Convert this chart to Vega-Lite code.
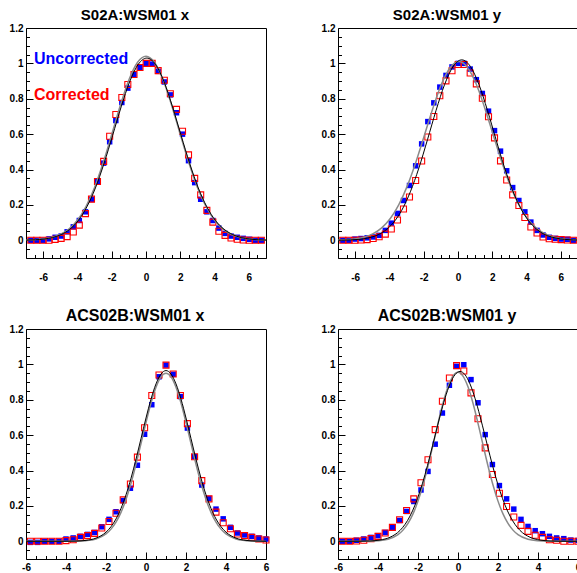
{
  "$schema": "https://vega.github.io/schema/vega-lite/v6.json",
  "padding": {"left": 8, "top": 7, "right": 0, "bottom": 0},
  "background": "white",
  "datasets": {
    "pts": [
      {"p":"a","x":-6.72,"u":0,"c":0},{"p":"a","x":-6.37,"u":0,"c":0},{"p":"a","x":-6.01,"u":0,"c":0},{"p":"a","x":-5.66,"u":0.008,"c":0},
      {"p":"a","x":-5.30,"u":0.017,"c":0.005},{"p":"a","x":-4.95,"u":0.024,"c":0.011},{"p":"a","x":-4.60,"u":0.048,"c":0.021},{"p":"a","x":-4.24,"u":0.076,"c":0.047},
      {"p":"a","x":-3.89,"u":0.112,"c":0.086},{"p":"a","x":-3.53,"u":0.161,"c":0.151},{"p":"a","x":-3.18,"u":0.231,"c":0.233},{"p":"a","x":-2.83,"u":0.331,"c":0.332},
      {"p":"a","x":-2.47,"u":0.436,"c":0.446},{"p":"a","x":-2.12,"u":0.557,"c":0.588},{"p":"a","x":-1.76,"u":0.677,"c":0.711},{"p":"a","x":-1.41,"u":0.779,"c":0.807},
      {"p":"a","x":-1.06,"u":0.86,"c":0.881},{"p":"a","x":-0.70,"u":0.936,"c":0.937},{"p":"a","x":-0.35,"u":0.978,"c":0.977},{"p":"a","x":0.01,"u":1.0,"c":1.0},
      {"p":"a","x":0.36,"u":0.996,"c":1.0},{"p":"a","x":0.71,"u":0.955,"c":0.959},{"p":"a","x":1.07,"u":0.895,"c":0.905},{"p":"a","x":1.42,"u":0.822,"c":0.828},
      {"p":"a","x":1.78,"u":0.721,"c":0.74},{"p":"a","x":2.13,"u":0.6,"c":0.616},{"p":"a","x":2.48,"u":0.45,"c":0.483},{"p":"a","x":2.84,"u":0.326,"c":0.35},
      {"p":"a","x":3.19,"u":0.232,"c":0.257},{"p":"a","x":3.55,"u":0.161,"c":0.169},{"p":"a","x":3.90,"u":0.112,"c":0.103},{"p":"a","x":4.25,"u":0.069,"c":0.051},
      {"p":"a","x":4.61,"u":0.039,"c":0.028},{"p":"a","x":4.96,"u":0.024,"c":0.013},{"p":"a","x":5.32,"u":0.017,"c":0.006},{"p":"a","x":5.67,"u":0.011,"c":0.002},
      {"p":"a","x":6.02,"u":0.006,"c":0},{"p":"a","x":6.38,"u":0,"c":0},{"p":"a","x":6.73,"u":0,"c":0},

      {"p":"b","x":-6.72,"u":0,"c":0},{"p":"b","x":-6.37,"u":0,"c":0},{"p":"b","x":-6.01,"u":0.007,"c":0},{"p":"b","x":-5.66,"u":0.01,"c":0.002},
      {"p":"b","x":-5.30,"u":0.014,"c":0.004},{"p":"b","x":-4.95,"u":0.019,"c":0.01},{"p":"b","x":-4.60,"u":0.028,"c":0.02},{"p":"b","x":-4.24,"u":0.056,"c":0.035},
      {"p":"b","x":-3.89,"u":0.097,"c":0.064},{"p":"b","x":-3.53,"u":0.152,"c":0.115},{"p":"b","x":-3.18,"u":0.225,"c":0.177},{"p":"b","x":-2.83,"u":0.31,"c":0.245},
      {"p":"b","x":-2.47,"u":0.421,"c":0.338},{"p":"b","x":-2.12,"u":0.545,"c":0.448},{"p":"b","x":-1.76,"u":0.671,"c":0.584},{"p":"b","x":-1.41,"u":0.777,"c":0.7},
      {"p":"b","x":-1.06,"u":0.866,"c":0.817},{"p":"b","x":-0.70,"u":0.932,"c":0.901},{"p":"b","x":-0.35,"u":0.98,"c":0.958},{"p":"b","x":0.01,"u":1.0,"c":0.994},
      {"p":"b","x":0.36,"u":1.0,"c":0.994},{"p":"b","x":0.71,"u":0.968,"c":0.946},{"p":"b","x":1.07,"u":0.908,"c":0.884},{"p":"b","x":1.42,"u":0.83,"c":0.803},
      {"p":"b","x":1.78,"u":0.73,"c":0.698},{"p":"b","x":2.13,"u":0.62,"c":0.579},{"p":"b","x":2.48,"u":0.504,"c":0.449},{"p":"b","x":2.84,"u":0.393,"c":0.341},
      {"p":"b","x":3.19,"u":0.298,"c":0.257},{"p":"b","x":3.55,"u":0.225,"c":0.197},{"p":"b","x":3.90,"u":0.161,"c":0.129},{"p":"b","x":4.25,"u":0.103,"c":0.075},
      {"p":"b","x":4.61,"u":0.056,"c":0.041},{"p":"b","x":4.96,"u":0.03,"c":0.019},{"p":"b","x":5.32,"u":0.017,"c":0.009},{"p":"b","x":5.67,"u":0.011,"c":0.006},
      {"p":"b","x":6.02,"u":0.007,"c":0.004},{"p":"b","x":6.38,"u":0.006,"c":0.002},{"p":"b","x":6.73,"u":0,"c":0},

      {"p":"c","x":-5.78,"u":-0.006,"c":0},{"p":"c","x":-5.42,"u":-0.006,"c":0},{"p":"c","x":-5.07,"u":0,"c":0},{"p":"c","x":-4.71,"u":0,"c":0},
      {"p":"c","x":-4.35,"u":0,"c":0},{"p":"c","x":-4.00,"u":0.013,"c":0.004},{"p":"c","x":-3.64,"u":0.019,"c":0.009},{"p":"c","x":-3.28,"u":0.028,"c":0.022},
      {"p":"c","x":-2.92,"u":0.039,"c":0.032},{"p":"c","x":-2.57,"u":0.05,"c":0.045},{"p":"c","x":-2.21,"u":0.082,"c":0.075},{"p":"c","x":-1.85,"u":0.124,"c":0.112},
      {"p":"c","x":-1.50,"u":0.167,"c":0.159},{"p":"c","x":-1.14,"u":0.23,"c":0.234},{"p":"c","x":-0.78,"u":0.3,"c":0.324},{"p":"c","x":-0.43,"u":0.43,"c":0.476},
      {"p":"c","x":-0.07,"u":0.605,"c":0.642},{"p":"c","x":0.29,"u":0.772,"c":0.824},{"p":"c","x":0.65,"u":0.93,"c":0.94},{"p":"c","x":1.00,"u":0.996,"c":0.996},
      {"p":"c","x":1.36,"u":0.944,"c":0.946},{"p":"c","x":1.72,"u":0.818,"c":0.824},{"p":"c","x":2.07,"u":0.64,"c":0.665},{"p":"c","x":2.43,"u":0.478,"c":0.478},
      {"p":"c","x":2.79,"u":0.318,"c":0.343},{"p":"c","x":3.15,"u":0.242,"c":0.24},{"p":"c","x":3.50,"u":0.182,"c":0.165},{"p":"c","x":3.86,"u":0.127,"c":0.105},
      {"p":"c","x":4.22,"u":0.079,"c":0.071},{"p":"c","x":4.57,"u":0.047,"c":0.041},{"p":"c","x":4.93,"u":0.036,"c":0.032},{"p":"c","x":5.29,"u":0.028,"c":0.022},
      {"p":"c","x":5.64,"u":0.019,"c":0.013},{"p":"c","x":6.00,"u":0.013,"c":0.007},

      {"p":"d","x":-5.78,"u":0,"c":0},{"p":"d","x":-5.42,"u":0,"c":0},{"p":"d","x":-5.07,"u":0.006,"c":0.002},{"p":"d","x":-4.71,"u":0.013,"c":0.006},
      {"p":"d","x":-4.35,"u":0.022,"c":0.015},{"p":"d","x":-4.00,"u":0.032,"c":0.028},{"p":"d","x":-3.64,"u":0.05,"c":0.047},{"p":"d","x":-3.28,"u":0.079,"c":0.079},
      {"p":"d","x":-2.92,"u":0.118,"c":0.122},{"p":"d","x":-2.57,"u":0.169,"c":0.174},{"p":"d","x":-2.21,"u":0.225,"c":0.24},{"p":"d","x":-1.85,"u":0.29,"c":0.331},
      {"p":"d","x":-1.50,"u":0.395,"c":0.461},{"p":"d","x":-1.14,"u":0.549,"c":0.631},{"p":"d","x":-0.78,"u":0.725,"c":0.792},{"p":"d","x":-0.43,"u":0.882,"c":0.923},
      {"p":"d","x":-0.07,"u":0.989,"c":0.993},{"p":"d","x":0.29,"u":0.998,"c":0.963},{"p":"d","x":0.65,"u":0.914,"c":0.839},{"p":"d","x":1.00,"u":0.783,"c":0.693},
      {"p":"d","x":1.36,"u":0.603,"c":0.528},{"p":"d","x":1.72,"u":0.434,"c":0.378},{"p":"d","x":2.07,"u":0.315,"c":0.272},{"p":"d","x":2.43,"u":0.24,"c":0.197},
      {"p":"d","x":2.79,"u":0.182,"c":0.137},{"p":"d","x":3.15,"u":0.124,"c":0.09},{"p":"d","x":3.50,"u":0.084,"c":0.056},{"p":"d","x":3.86,"u":0.06,"c":0.034},
      {"p":"d","x":4.22,"u":0.043,"c":0.022},{"p":"d","x":4.57,"u":0.028,"c":0.009},{"p":"d","x":4.93,"u":0.019,"c":0.006},{"p":"d","x":5.29,"u":0.015,"c":0},
      {"p":"d","x":5.64,"u":0.007,"c":0},{"p":"d","x":6.00,"u":0.004,"c":0}
    ],
    "fits": [
      {"p":"a","f":"k","x":-7.45,"y":0.0004},{"p":"a","f":"k","x":-6.95,"y":0.0012},{"p":"a","f":"k","x":-6.45,"y":0.003},{"p":"a","f":"k","x":-5.95,"y":0.007},
      {"p":"a","f":"k","x":-5.45,"y":0.0156},{"p":"a","f":"k","x":-4.95,"y":0.0323},{"p":"a","f":"k","x":-4.45,"y":0.0623},{"p":"a","f":"k","x":-3.95,"y":0.112},
      {"p":"a","f":"k","x":-3.45,"y":0.189},{"p":"a","f":"k","x":-2.95,"y":0.296},{"p":"a","f":"k","x":-2.45,"y":0.434},{"p":"a","f":"k","x":-1.95,"y":0.592},
      {"p":"a","f":"k","x":-1.45,"y":0.754},{"p":"a","f":"k","x":-0.95,"y":0.897},{"p":"a","f":"k","x":-0.45,"y":0.995},{"p":"a","f":"k","x":0.05,"y":1.03},
      {"p":"a","f":"k","x":0.55,"y":0.995},{"p":"a","f":"k","x":1.05,"y":0.897},{"p":"a","f":"k","x":1.55,"y":0.754},{"p":"a","f":"k","x":2.05,"y":0.592},
      {"p":"a","f":"k","x":2.55,"y":0.434},{"p":"a","f":"k","x":3.05,"y":0.296},{"p":"a","f":"k","x":3.55,"y":0.189},{"p":"a","f":"k","x":4.05,"y":0.112},
      {"p":"a","f":"k","x":4.55,"y":0.0623},{"p":"a","f":"k","x":5.05,"y":0.0323},{"p":"a","f":"k","x":5.55,"y":0.0156},{"p":"a","f":"k","x":6.05,"y":0.007},
      {"p":"a","f":"k","x":6.55,"y":0.003},{"p":"a","f":"k","x":7.05,"y":0.0012},

      {"p":"a","f":"g","x":-7,"y":0.0012},{"p":"a","f":"g","x":-6.5,"y":0.003},{"p":"a","f":"g","x":-6,"y":0.0071},{"p":"a","f":"g","x":-5.5,"y":0.0158},
      {"p":"a","f":"g","x":-5,"y":0.0326},{"p":"a","f":"g","x":-4.5,"y":0.0629},{"p":"a","f":"g","x":-4,"y":0.113},{"p":"a","f":"g","x":-3.5,"y":0.191},
      {"p":"a","f":"g","x":-3,"y":0.299},{"p":"a","f":"g","x":-2.5,"y":0.438},{"p":"a","f":"g","x":-2,"y":0.598},{"p":"a","f":"g","x":-1.5,"y":0.762},
      {"p":"a","f":"g","x":-1,"y":0.906},{"p":"a","f":"g","x":-0.5,"y":1.005},{"p":"a","f":"g","x":0,"y":1.04},{"p":"a","f":"g","x":0.5,"y":1.005},
      {"p":"a","f":"g","x":1,"y":0.906},{"p":"a","f":"g","x":1.5,"y":0.762},{"p":"a","f":"g","x":2,"y":0.598},{"p":"a","f":"g","x":2.5,"y":0.438},
      {"p":"a","f":"g","x":3,"y":0.299},{"p":"a","f":"g","x":3.5,"y":0.191},{"p":"a","f":"g","x":4,"y":0.113},{"p":"a","f":"g","x":4.5,"y":0.0629},
      {"p":"a","f":"g","x":5,"y":0.0326},{"p":"a","f":"g","x":5.5,"y":0.0158},{"p":"a","f":"g","x":6,"y":0.0071},{"p":"a","f":"g","x":6.5,"y":0.003},
      {"p":"a","f":"g","x":7,"y":0.0012},

      {"p":"b","f":"g","x":-7.45,"y":0.0006},{"p":"b","f":"g","x":-6.95,"y":0.0016},{"p":"b","f":"g","x":-6.45,"y":0.0039},{"p":"b","f":"g","x":-5.95,"y":0.0089},
      {"p":"b","f":"g","x":-5.45,"y":0.0189},{"p":"b","f":"g","x":-4.95,"y":0.0378},{"p":"b","f":"g","x":-4.45,"y":0.0705},{"p":"b","f":"g","x":-3.95,"y":0.123},
      {"p":"b","f":"g","x":-3.45,"y":0.202},{"p":"b","f":"g","x":-2.95,"y":0.309},{"p":"b","f":"g","x":-2.45,"y":0.444},{"p":"b","f":"g","x":-1.95,"y":0.597},
      {"p":"b","f":"g","x":-1.45,"y":0.751},{"p":"b","f":"g","x":-0.95,"y":0.886},{"p":"b","f":"g","x":-0.45,"y":0.977},{"p":"b","f":"g","x":0.05,"y":1.01},
      {"p":"b","f":"g","x":0.55,"y":0.977},{"p":"b","f":"g","x":1.05,"y":0.886},{"p":"b","f":"g","x":1.55,"y":0.751},{"p":"b","f":"g","x":2.05,"y":0.597},
      {"p":"b","f":"g","x":2.55,"y":0.444},{"p":"b","f":"g","x":3.05,"y":0.309},{"p":"b","f":"g","x":3.55,"y":0.202},{"p":"b","f":"g","x":4.05,"y":0.123},
      {"p":"b","f":"g","x":4.55,"y":0.0705},{"p":"b","f":"g","x":5.05,"y":0.0378},{"p":"b","f":"g","x":5.55,"y":0.0189},{"p":"b","f":"g","x":6.05,"y":0.0089},
      {"p":"b","f":"g","x":6.55,"y":0.0039},{"p":"b","f":"g","x":7.05,"y":0.0016},

      {"p":"b","f":"k","x":-7.28,"y":0.0003},{"p":"b","f":"k","x":-6.78,"y":0.0008},{"p":"b","f":"k","x":-6.28,"y":0.0021},{"p":"b","f":"k","x":-5.78,"y":0.0053},
      {"p":"b","f":"k","x":-5.28,"y":0.0123},{"p":"b","f":"k","x":-4.78,"y":0.0264},{"p":"b","f":"k","x":-4.28,"y":0.0529},{"p":"b","f":"k","x":-3.78,"y":0.0985},
      {"p":"b","f":"k","x":-3.28,"y":0.17},{"p":"b","f":"k","x":-2.78,"y":0.274},{"p":"b","f":"k","x":-2.28,"y":0.409},{"p":"b","f":"k","x":-1.78,"y":0.569},
      {"p":"b","f":"k","x":-1.28,"y":0.734},{"p":"b","f":"k","x":-0.78,"y":0.881},{"p":"b","f":"k","x":-0.28,"y":0.983},{"p":"b","f":"k","x":0.22,"y":1.02},
      {"p":"b","f":"k","x":0.72,"y":0.983},{"p":"b","f":"k","x":1.22,"y":0.881},{"p":"b","f":"k","x":1.72,"y":0.734},{"p":"b","f":"k","x":2.22,"y":0.569},
      {"p":"b","f":"k","x":2.72,"y":0.409},{"p":"b","f":"k","x":3.22,"y":0.274},{"p":"b","f":"k","x":3.72,"y":0.17},{"p":"b","f":"k","x":4.22,"y":0.0985},
      {"p":"b","f":"k","x":4.72,"y":0.0529},{"p":"b","f":"k","x":5.22,"y":0.0264},{"p":"b","f":"k","x":5.72,"y":0.0123},{"p":"b","f":"k","x":6.22,"y":0.0053},
      {"p":"b","f":"k","x":6.72,"y":0.0021},{"p":"b","f":"k","x":7.22,"y":0.0008},

      {"p":"c","f":"k","x":-6,"y":0},{"p":"c","f":"k","x":-5,"y":0},{"p":"c","f":"k","x":-4,"y":0.0003},{"p":"c","f":"k","x":-3.5,"y":0.0013},
      {"p":"c","f":"k","x":-3,"y":0.0053},{"p":"c","f":"k","x":-2.5,"y":0.018},{"p":"c","f":"k","x":-2,"y":0.0517},{"p":"c","f":"k","x":-1.75,"y":0.0825},
      {"p":"c","f":"k","x":-1.5,"y":0.1264},{"p":"c","f":"k","x":-1.25,"y":0.1861},{"p":"c","f":"k","x":-1,"y":0.2628},{"p":"c","f":"k","x":-0.75,"y":0.3565},
      {"p":"c","f":"k","x":-0.5,"y":0.4643},{"p":"c","f":"k","x":-0.25,"y":0.5806},{"p":"c","f":"k","x":0,"y":0.6971},{"p":"c","f":"k","x":0.25,"y":0.8037},
      {"p":"c","f":"k","x":0.5,"y":0.8896},{"p":"c","f":"k","x":0.75,"y":0.9456},{"p":"c","f":"k","x":1,"y":0.965},{"p":"c","f":"k","x":1.25,"y":0.9456},
      {"p":"c","f":"k","x":1.5,"y":0.8896},{"p":"c","f":"k","x":1.75,"y":0.8037},{"p":"c","f":"k","x":2,"y":0.6971},{"p":"c","f":"k","x":2.25,"y":0.5806},
      {"p":"c","f":"k","x":2.5,"y":0.4643},{"p":"c","f":"k","x":2.75,"y":0.3565},{"p":"c","f":"k","x":3,"y":0.2628},{"p":"c","f":"k","x":3.25,"y":0.1861},
      {"p":"c","f":"k","x":3.5,"y":0.1264},{"p":"c","f":"k","x":3.75,"y":0.0825},{"p":"c","f":"k","x":4,"y":0.0517},{"p":"c","f":"k","x":4.5,"y":0.018},
      {"p":"c","f":"k","x":5,"y":0.0053},{"p":"c","f":"k","x":5.5,"y":0.0013},{"p":"c","f":"k","x":6,"y":0.0003},

      {"p":"c","f":"g","x":-6,"y":0},{"p":"c","f":"g","x":-5,"y":0},{"p":"c","f":"g","x":-4,"y":0.0002},{"p":"c","f":"g","x":-3.5,"y":0.0008},
      {"p":"c","f":"g","x":-3,"y":0.0037},{"p":"c","f":"g","x":-2.5,"y":0.0135},{"p":"c","f":"g","x":-2,"y":0.0417},{"p":"c","f":"g","x":-1.75,"y":0.0688},
      {"p":"c","f":"g","x":-1.5,"y":0.1085},{"p":"c","f":"g","x":-1.25,"y":0.1638},{"p":"c","f":"g","x":-1,"y":0.2369},{"p":"c","f":"g","x":-0.75,"y":0.328},
      {"p":"c","f":"g","x":-0.5,"y":0.4349},{"p":"c","f":"g","x":-0.25,"y":0.5522},{"p":"c","f":"g","x":0,"y":0.6713},{"p":"c","f":"g","x":0.25,"y":0.7815},
      {"p":"c","f":"g","x":0.5,"y":0.8711},{"p":"c","f":"g","x":0.75,"y":0.9296},{"p":"c","f":"g","x":1,"y":0.95},{"p":"c","f":"g","x":1.25,"y":0.9296},
      {"p":"c","f":"g","x":1.5,"y":0.8711},{"p":"c","f":"g","x":1.75,"y":0.7815},{"p":"c","f":"g","x":2,"y":0.6713},{"p":"c","f":"g","x":2.25,"y":0.5522},
      {"p":"c","f":"g","x":2.5,"y":0.4349},{"p":"c","f":"g","x":2.75,"y":0.328},{"p":"c","f":"g","x":3,"y":0.2369},{"p":"c","f":"g","x":3.25,"y":0.1638},
      {"p":"c","f":"g","x":3.5,"y":0.1085},{"p":"c","f":"g","x":3.75,"y":0.0688},{"p":"c","f":"g","x":4,"y":0.0417},{"p":"c","f":"g","x":4.5,"y":0.0135},
      {"p":"c","f":"g","x":5,"y":0.0037},{"p":"c","f":"g","x":5.5,"y":0.0008},{"p":"c","f":"g","x":6,"y":0.0002},

      {"p":"d","f":"k","x":-6.1,"y":0},{"p":"d","f":"k","x":-5.4,"y":0.0001},{"p":"d","f":"k","x":-4.9,"y":0.0005},{"p":"d","f":"k","x":-4.4,"y":0.002},
      {"p":"d","f":"k","x":-3.9,"y":0.0073},{"p":"d","f":"k","x":-3.4,"y":0.0228},{"p":"d","f":"k","x":-2.9,"y":0.0615},{"p":"d","f":"k","x":-2.65,"y":0.0955},
      {"p":"d","f":"k","x":-2.4,"y":0.1426},{"p":"d","f":"k","x":-2.15,"y":0.2048},{"p":"d","f":"k","x":-1.9,"y":0.2832},{"p":"d","f":"k","x":-1.65,"y":0.3771},
      {"p":"d","f":"k","x":-1.4,"y":0.4832},{"p":"d","f":"k","x":-1.15,"y":0.596},{"p":"d","f":"k","x":-0.9,"y":0.7075},{"p":"d","f":"k","x":-0.65,"y":0.8086},
      {"p":"d","f":"k","x":-0.4,"y":0.8894},{"p":"d","f":"k","x":-0.15,"y":0.9419},{"p":"d","f":"k","x":0.1,"y":0.96},{"p":"d","f":"k","x":0.35,"y":0.9419},
      {"p":"d","f":"k","x":0.6,"y":0.8894},{"p":"d","f":"k","x":0.85,"y":0.8086},{"p":"d","f":"k","x":1.1,"y":0.7075},{"p":"d","f":"k","x":1.35,"y":0.596},
      {"p":"d","f":"k","x":1.6,"y":0.4832},{"p":"d","f":"k","x":1.85,"y":0.3771},{"p":"d","f":"k","x":2.1,"y":0.2832},{"p":"d","f":"k","x":2.35,"y":0.2048},
      {"p":"d","f":"k","x":2.6,"y":0.1426},{"p":"d","f":"k","x":2.85,"y":0.0955},{"p":"d","f":"k","x":3.1,"y":0.0615},{"p":"d","f":"k","x":3.6,"y":0.0228},
      {"p":"d","f":"k","x":4.1,"y":0.0073},{"p":"d","f":"k","x":4.6,"y":0.002},{"p":"d","f":"k","x":5.1,"y":0.0005},{"p":"d","f":"k","x":5.6,"y":0.0001},
      {"p":"d","f":"k","x":6.1,"y":0},

      {"p":"d","f":"g","x":-6,"y":0},{"p":"d","f":"g","x":-5,"y":0.0001},{"p":"d","f":"g","x":-4.5,"y":0.0007},{"p":"d","f":"g","x":-4,"y":0.0031},
      {"p":"d","f":"g","x":-3.5,"y":0.0117},{"p":"d","f":"g","x":-3,"y":0.0377},{"p":"d","f":"g","x":-2.75,"y":0.0632},{"p":"d","f":"g","x":-2.5,"y":0.1012},
      {"p":"d","f":"g","x":-2.25,"y":0.155},{"p":"d","f":"g","x":-2,"y":0.2271},{"p":"d","f":"g","x":-1.75,"y":0.318},{"p":"d","f":"g","x":-1.5,"y":0.4257},
      {"p":"d","f":"g","x":-1.25,"y":0.5449},{"p":"d","f":"g","x":-1,"y":0.6669},{"p":"d","f":"g","x":-0.75,"y":0.7803},{"p":"d","f":"g","x":-0.5,"y":0.873},
      {"p":"d","f":"g","x":-0.25,"y":0.9338},{"p":"d","f":"g","x":0,"y":0.955},{"p":"d","f":"g","x":0.25,"y":0.9338},{"p":"d","f":"g","x":0.5,"y":0.873},
      {"p":"d","f":"g","x":0.75,"y":0.7803},{"p":"d","f":"g","x":1,"y":0.6669},{"p":"d","f":"g","x":1.25,"y":0.5449},{"p":"d","f":"g","x":1.5,"y":0.4257},
      {"p":"d","f":"g","x":1.75,"y":0.318},{"p":"d","f":"g","x":2,"y":0.2271},{"p":"d","f":"g","x":2.25,"y":0.155},{"p":"d","f":"g","x":2.5,"y":0.1012},
      {"p":"d","f":"g","x":2.75,"y":0.0632},{"p":"d","f":"g","x":3,"y":0.0377},{"p":"d","f":"g","x":3.5,"y":0.0117},{"p":"d","f":"g","x":4,"y":0.0031},
      {"p":"d","f":"g","x":4.5,"y":0.0007},{"p":"d","f":"g","x":5,"y":0.0001},{"p":"d","f":"g","x":6,"y":0}
    ]
  },
  "columns": 2,
  "spacing": {"row": 71, "column": 72},
  "bounds": "flush",
  "resolve": {"scale": {"color": "independent"}},
  "concat": [
    {
      "width": 240, "height": 230,
      "title": {"text": "S02A:WSM01 x", "fontSize": 15},
      "encoding": {
        "x": {"field": "x", "type": "quantitative", "title": null, "scale": {"domain": [-7, 7], "nice": false, "zero": false},
          "axis": {"values": [-7,-6.5,-6,-5.5,-5,-4.5,-4,-3.5,-3,-2.5,-2,-1.5,-1,-0.5,0,0.5,1,1.5,2,2.5,3,3.5,4,4.5,5,5.5,6,6.5,7],
            "tickSize": {"condition": {"test": "datum.value % 2 == 0", "value": -7}, "value": -3.5},
            "labelExpr": "datum.value % 2 == 0 ? '' + datum.value : ''", "labelPadding": 21, "labelBaseline": "top"}},
        "y": {"field": "y", "type": "quantitative", "title": null, "scale": {"domain": [-0.1, 1.2], "nice": false, "zero": false},
          "axis": {"values": [-0.05,0,0.05,0.1,0.15,0.2,0.25,0.3,0.35,0.4,0.45,0.5,0.55,0.6,0.65,0.7,0.75,0.8,0.85,0.9,0.95,1,1.05,1.1,1.15,1.2],
            "tickSize": {"condition": {"test": "abs(datum.value*5 - round(datum.value*5)) < 0.001", "value": -7}, "value": -3.5},
            "labelExpr": "abs(datum.value*5 - round(datum.value*5)) < 0.001 ? '' + datum.value : ''", "labelPadding": 10}}
      },
      "layer": [
        {"data": {"name": "pts"}, "transform": [{"filter": "datum.p == 'a'"}, {"fold": ["u", "c"], "as": ["s", "y"]}, {"filter": "datum.s == 'u'"}],
          "mark": {"type": "square", "filled": true, "size": 30, "opacity": 1},
          "encoding": {"color": {"field": "s", "type": "nominal", "scale": {"domain": ["u", "c"], "range": ["#0000ff", "#ff0000"]},
            "legend": {"orient": "none", "legendX": -8, "legendY": 23, "title": null, "symbolSize": 0, "symbolOpacity": 0, "symbolStrokeWidth": 0, "labelOffset": 0,
              "labelFont": "Liberation Sans", "labelFontWeight": "bold", "labelFontSize": 16, "labelLimit": 0, "rowPadding": 20,
              "labelColor": {"expr": "datum.value == 'u' ? '#0000ff' : '#ff0000'"},
              "labelExpr": "datum.value == 'u' ? 'Uncorrected' : 'Corrected'"}}}},
        {"data": {"name": "pts"}, "transform": [{"filter": "datum.p == 'a'"}, {"fold": ["u", "c"], "as": ["s", "y"]}, {"filter": "datum.s == 'c'"}],
          "mark": {"type": "square", "filled": false, "size": 36, "strokeWidth": 1.1, "opacity": 1},
          "encoding": {"color": {"field": "s", "type": "nominal", "scale": {"domain": ["u", "c"], "range": ["#0000ff", "#ff0000"]}}}},
        {"data": {"name": "fits"}, "transform": [{"filter": "datum.p == 'a' && datum.f == 'g'"}],
          "mark": {"type": "line", "color": "#8a8a8a", "strokeWidth": 1.5, "interpolate": "monotone", "clip": true}, "encoding": {}},
        {"data": {"name": "fits"}, "transform": [{"filter": "datum.p == 'a' && datum.f == 'k'"}],
          "mark": {"type": "line", "color": "#000000", "strokeWidth": 1, "interpolate": "monotone", "clip": true}, "encoding": {}}
      ]
    },
    {
      "width": 240, "height": 230,
      "title": {"text": "S02A:WSM01 y", "fontSize": 15},
      "encoding": {
        "x": {"field": "x", "type": "quantitative", "title": null, "scale": {"domain": [-7, 7], "nice": false, "zero": false},
          "axis": {"values": [-7,-6.5,-6,-5.5,-5,-4.5,-4,-3.5,-3,-2.5,-2,-1.5,-1,-0.5,0,0.5,1,1.5,2,2.5,3,3.5,4,4.5,5,5.5,6,6.5,7],
            "tickSize": {"condition": {"test": "datum.value % 2 == 0", "value": -7}, "value": -3.5},
            "labelExpr": "datum.value % 2 == 0 ? '' + datum.value : ''", "labelPadding": 21, "labelBaseline": "top"}},
        "y": {"field": "y", "type": "quantitative", "title": null, "scale": {"domain": [-0.1, 1.2], "nice": false, "zero": false},
          "axis": {"values": [-0.05,0,0.05,0.1,0.15,0.2,0.25,0.3,0.35,0.4,0.45,0.5,0.55,0.6,0.65,0.7,0.75,0.8,0.85,0.9,0.95,1,1.05,1.1,1.15,1.2],
            "tickSize": {"condition": {"test": "abs(datum.value*5 - round(datum.value*5)) < 0.001", "value": -7}, "value": -3.5},
            "labelExpr": "abs(datum.value*5 - round(datum.value*5)) < 0.001 ? '' + datum.value : ''", "labelPadding": 10}}
      },
      "layer": [
        {"data": {"name": "pts"}, "transform": [{"filter": "datum.p == 'b'"}, {"fold": ["u", "c"], "as": ["s", "y"]}, {"filter": "datum.s == 'u'"}],
          "mark": {"type": "square", "filled": true, "size": 30, "opacity": 1},
          "encoding": {"color": {"field": "s", "type": "nominal", "scale": {"domain": ["u", "c"], "range": ["#0000ff", "#ff0000"]}, "legend": null}}},
        {"data": {"name": "pts"}, "transform": [{"filter": "datum.p == 'b'"}, {"fold": ["u", "c"], "as": ["s", "y"]}, {"filter": "datum.s == 'c'"}],
          "mark": {"type": "square", "filled": false, "size": 36, "strokeWidth": 1.1, "opacity": 1},
          "encoding": {"color": {"field": "s", "type": "nominal", "scale": {"domain": ["u", "c"], "range": ["#0000ff", "#ff0000"]}, "legend": null}}},
        {"data": {"name": "fits"}, "transform": [{"filter": "datum.p == 'b' && datum.f == 'g'"}],
          "mark": {"type": "line", "color": "#8a8a8a", "strokeWidth": 1.5, "interpolate": "monotone", "clip": true}, "encoding": {}},
        {"data": {"name": "fits"}, "transform": [{"filter": "datum.p == 'b' && datum.f == 'k'"}],
          "mark": {"type": "line", "color": "#000000", "strokeWidth": 1, "interpolate": "monotone", "clip": true}, "encoding": {}}
      ]
    },
    {
      "width": 240, "height": 230,
      "title": {"text": "ACS02B:WSM01 x", "fontSize": 16},
      "encoding": {
        "x": {"field": "x", "type": "quantitative", "title": null, "scale": {"domain": [-6, 6], "nice": false, "zero": false},
          "axis": {"values": [-6,-5.5,-5,-4.5,-4,-3.5,-3,-2.5,-2,-1.5,-1,-0.5,0,0.5,1,1.5,2,2.5,3,3.5,4,4.5,5,5.5,6],
            "tickSize": {"condition": {"test": "datum.value % 2 == 0", "value": -7}, "value": -3.5},
            "labelExpr": "datum.value % 2 == 0 ? '' + datum.value : ''", "labelPadding": 10, "labelBaseline": "top"}},
        "y": {"field": "y", "type": "quantitative", "title": null, "scale": {"domain": [-0.1, 1.2], "nice": false, "zero": false},
          "axis": {"values": [-0.05,0,0.05,0.1,0.15,0.2,0.25,0.3,0.35,0.4,0.45,0.5,0.55,0.6,0.65,0.7,0.75,0.8,0.85,0.9,0.95,1,1.05,1.1,1.15,1.2],
            "tickSize": {"condition": {"test": "abs(datum.value*5 - round(datum.value*5)) < 0.001", "value": -7}, "value": -3.5},
            "labelExpr": "abs(datum.value*5 - round(datum.value*5)) < 0.001 ? '' + datum.value : ''", "labelPadding": 10}}
      },
      "layer": [
        {"data": {"name": "pts"}, "transform": [{"filter": "datum.p == 'c'"}, {"fold": ["u", "c"], "as": ["s", "y"]}, {"filter": "datum.s == 'u'"}],
          "mark": {"type": "square", "filled": true, "size": 30, "opacity": 1},
          "encoding": {"color": {"field": "s", "type": "nominal", "scale": {"domain": ["u", "c"], "range": ["#0000ff", "#ff0000"]}, "legend": null}}},
        {"data": {"name": "pts"}, "transform": [{"filter": "datum.p == 'c'"}, {"fold": ["u", "c"], "as": ["s", "y"]}, {"filter": "datum.s == 'c'"}],
          "mark": {"type": "square", "filled": false, "size": 36, "strokeWidth": 1.1, "opacity": 1},
          "encoding": {"color": {"field": "s", "type": "nominal", "scale": {"domain": ["u", "c"], "range": ["#0000ff", "#ff0000"]}, "legend": null}}},
        {"data": {"name": "fits"}, "transform": [{"filter": "datum.p == 'c' && datum.f == 'g'"}],
          "mark": {"type": "line", "color": "#8a8a8a", "strokeWidth": 1.5, "interpolate": "monotone", "clip": true}, "encoding": {}},
        {"data": {"name": "fits"}, "transform": [{"filter": "datum.p == 'c' && datum.f == 'k'"}],
          "mark": {"type": "line", "color": "#000000", "strokeWidth": 1, "interpolate": "monotone", "clip": true}, "encoding": {}}
      ]
    },
    {
      "width": 240, "height": 230,
      "title": {"text": "ACS02B:WSM01 y", "fontSize": 16},
      "encoding": {
        "x": {"field": "x", "type": "quantitative", "title": null, "scale": {"domain": [-6, 6], "nice": false, "zero": false},
          "axis": {"values": [-6,-5.5,-5,-4.5,-4,-3.5,-3,-2.5,-2,-1.5,-1,-0.5,0,0.5,1,1.5,2,2.5,3,3.5,4,4.5,5,5.5,6],
            "tickSize": {"condition": {"test": "datum.value % 2 == 0", "value": -7}, "value": -3.5},
            "labelExpr": "datum.value % 2 == 0 ? '' + datum.value : ''", "labelPadding": 10, "labelBaseline": "top"}},
        "y": {"field": "y", "type": "quantitative", "title": null, "scale": {"domain": [-0.1, 1.2], "nice": false, "zero": false},
          "axis": {"values": [-0.05,0,0.05,0.1,0.15,0.2,0.25,0.3,0.35,0.4,0.45,0.5,0.55,0.6,0.65,0.7,0.75,0.8,0.85,0.9,0.95,1,1.05,1.1,1.15,1.2],
            "tickSize": {"condition": {"test": "abs(datum.value*5 - round(datum.value*5)) < 0.001", "value": -7}, "value": -3.5},
            "labelExpr": "abs(datum.value*5 - round(datum.value*5)) < 0.001 ? '' + datum.value : ''", "labelPadding": 10}}
      },
      "layer": [
        {"data": {"name": "pts"}, "transform": [{"filter": "datum.p == 'd'"}, {"fold": ["u", "c"], "as": ["s", "y"]}, {"filter": "datum.s == 'u'"}],
          "mark": {"type": "square", "filled": true, "size": 30, "opacity": 1},
          "encoding": {"color": {"field": "s", "type": "nominal", "scale": {"domain": ["u", "c"], "range": ["#0000ff", "#ff0000"]}, "legend": null}}},
        {"data": {"name": "pts"}, "transform": [{"filter": "datum.p == 'd'"}, {"fold": ["u", "c"], "as": ["s", "y"]}, {"filter": "datum.s == 'c'"}],
          "mark": {"type": "square", "filled": false, "size": 36, "strokeWidth": 1.1, "opacity": 1},
          "encoding": {"color": {"field": "s", "type": "nominal", "scale": {"domain": ["u", "c"], "range": ["#0000ff", "#ff0000"]}, "legend": null}}},
        {"data": {"name": "fits"}, "transform": [{"filter": "datum.p == 'd' && datum.f == 'g'"}],
          "mark": {"type": "line", "color": "#8a8a8a", "strokeWidth": 1.5, "interpolate": "monotone", "clip": true}, "encoding": {}},
        {"data": {"name": "fits"}, "transform": [{"filter": "datum.p == 'd' && datum.f == 'k'"}],
          "mark": {"type": "line", "color": "#000000", "strokeWidth": 1, "interpolate": "monotone", "clip": true}, "encoding": {}}
      ]
    }
  ],
  "config": {
    "view": {"stroke": "#000000", "strokeWidth": 1},
    "font": "Liberation Sans",
    "axis": {"domain": false, "grid": false, "labelFont": "Liberation Sans", "labelFontSize": 10, "labelFontWeight": "bold", "labelColor": "#000000",
      "tickColor": "#000000", "tickWidth": 1, "labelFlush": false, "labelOverlap": false, "labelBound": false},
    "title": {"font": "Liberation Sans", "fontWeight": "bold", "color": "#000000", "offset": 0.5, "anchor": "middle", "frame": "group", "dx": -11}
  }
}
